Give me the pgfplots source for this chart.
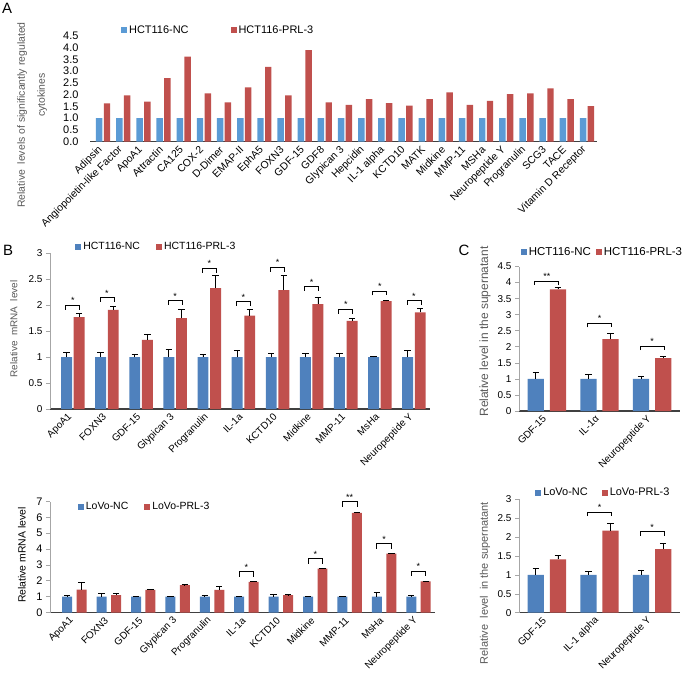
\documentclass[border=0pt]{standalone}
\usepackage{fontspec}
\setmainfont{Liberation Sans}
\usepackage{pgfplots}
\usepackage{pgfplotstable}
\pgfplotsset{compat=1.18}

\definecolor{ablue}{HTML}{5B9BD5}
\definecolor{bblue}{HTML}{4F81BD}
\definecolor{xred}{HTML}{C0504D}
\definecolor{axisgray}{HTML}{404040}
\definecolor{labgray}{HTML}{595959}

% significance brackets, one width per panel
\pgfdeclareplotmark{brkBt}{\pgfpathmoveto{\pgfqpoint{-7bp}{-4.3bp}}\pgfpathlineto{\pgfqpoint{-7bp}{0bp}}\pgfpathlineto{\pgfqpoint{7bp}{0bp}}\pgfpathlineto{\pgfqpoint{7bp}{-4.3bp}}\pgfusepathqstroke}
\pgfdeclareplotmark{brkBb}{\pgfpathmoveto{\pgfqpoint{-7.3bp}{-5bp}}\pgfpathlineto{\pgfqpoint{-7.3bp}{0bp}}\pgfpathlineto{\pgfqpoint{7.3bp}{0bp}}\pgfpathlineto{\pgfqpoint{7.3bp}{-5bp}}\pgfusepathqstroke}
\pgfdeclareplotmark{brkC}{\pgfpathmoveto{\pgfqpoint{-12bp}{-4bp}}\pgfpathlineto{\pgfqpoint{-12bp}{0bp}}\pgfpathlineto{\pgfqpoint{12bp}{0bp}}\pgfpathlineto{\pgfqpoint{12bp}{-4bp}}\pgfusepathqstroke}

\pgfplotstableread{
x nc prl
0 1 1.63
1 1 1.97
2 1 1.70
3 1 2.70
4 1 3.61
5 1 2.05
6 1 1.67
7 1 2.31
8 1 3.18
9 1 1.97
10 1 3.89
11 1 1.67
12 1 1.56
13 1 1.81
14 1 1.64
15 1 1.53
16 1 1.81
17 1 2.09
18 1 1.56
19 1 1.73
20 1 2.02
21 1 2.05
22 1 2.26
23 1 1.81
24 1 1.51
}\dataA

\pgfplotstableread{
x nc nce prl prle
0 1 0.09 1.77 0.07
1 1 0.09 1.91 0.07
2 1 0.05 1.33 0.10
3 1 0.15 1.75 0.17
4 1 0.05 2.33 0.24
5 1 0.12 1.80 0.11
6 1 0.07 2.29 0.29
7 1 0.07 2.02 0.14
8 1 0.08 1.70 0.04
9 1 0.02 2.08 0.02
10 1 0.12 1.86 0.07
}\dataBt

\pgfplotstableread{
x h s
0 2.00 *
1 2.15 *
3 2.09 *
4 2.71 *
5 2.07 *
6 2.73 *
7 2.36 *
8 1.92 *
9 2.27 *
10 2.09 *
}\sigBt

\pgfplotstableread{
x nc nce prl prle
0 1 0.09 1.45 0.45
1 1 0.20 1.10 0.08
2 1 0.03 1.43 0.03
3 1 0.03 1.72 0.03
4 1 0.07 1.42 0.20
5 1 0.02 1.93 0.03
6 1 0.14 1.10 0.03
7 1 0.02 2.77 0.03
8 1 0.02 6.28 0.03
9 1 0.25 3.72 0.03
10 1 0.07 1.96 0.03
}\dataBb

\pgfplotstableread{
x h s
5 2.58 *
7 3.39 *
8 6.98 **
9 4.33 *
10 2.62 *
}\sigBb

\pgfplotstableread{
x nc nce prl prle
0 1 0.20 3.79 0.07
1 1 0.15 2.24 0.17
2 1 0.09 1.65 0.06
}\dataCt

\pgfplotstableread{
x h s
0 4.05 **
1 2.73 *
2 2.02 *
}\sigCt

\pgfplotstableread{
x nc nce prl prle
0 1 0.17 1.41 0.10
1 1 0.08 2.17 0.19
2 1 0.13 1.68 0.16
}\dataCb

\pgfplotstableread{
x h s
1 2.66 *
2 2.14 *
}\sigCb

\pgfplotsset{
  panel/.style={
    scale only axis, clip=false, enlargelimits=false,
    axis x line*=bottom, axis y line*=left,
    x axis line style={axisgray, line width=1.3bp},
    y axis line style={gray!70, line width=0.6bp},
    xtick style={draw=none},
    ytick style={gray!70, line width=0.6bp},
    tick align=outside, major tick length=4bp,
    /pgf/number format/assume math mode=true,
    yticklabel style={font=\fontsize{10}{12}\selectfont},
    xticklabel style={rotate=45, anchor=east, font=\fontsize{10}{12}\selectfont},
    ylabel style={font=\fontsize{10.5}{12}\selectfont, color=labgray},
    legend style={draw=none, fill=none, legend columns=2, anchor=west,
      inner sep=0pt, font=\fontsize{10.5}{12}\selectfont,
      /tikz/every even column/.append style={column sep=14bp}},
    legend cell align=left,
  },
  sq/.style={legend image code/.code={\fill[##1] (0bp,-3bp) rectangle (6bp,3bp);}},
  ebars/.style={error bars/.cd, y dir=plus, y explicit,
    error bar style={black, line width=0.8bp},
    error mark options={rotate=90, black, mark size=3.2bp, line width=0.8bp}},
  sig/.style={only marks, mark=#1, black, line width=0.8bp,
    nodes near coords, point meta=explicit symbolic,
    every node near coord/.style={font=\fontsize{9}{9}\selectfont, anchor=south, inner sep=1bp, black}},
}

\begin{document}
\begin{tikzpicture}
\useasboundingbox (0,0) rectangle (687bp,-681bp);

\node[font=\fontsize{15}{15}\selectfont] at (7bp,-8bp) {A};
\node[font=\fontsize{15}{15}\selectfont] at (8bp,-250bp) {B};
\node[font=\fontsize{15}{15}\selectfont] at (464bp,-250bp) {C};

% ---------- A ----------
\begin{axis}[panel,
  at={(90bp,-141.7bp)}, anchor=south west,
  width=507bp, height=106bp,
  xmin=-0.65, xmax=24.5, ymin=0, ymax=4.5,
  y axis line style={draw=none}, ytick style={draw=none},
  ytick={0,0.5,...,4.5},
  yticklabel style={font=\fontsize{11}{12}\selectfont, xshift=-4bp,
    /pgf/number format/.cd, fixed, fixed zerofill, precision=1},
  xtick={0,...,24},
  xticklabels={Adipsin,Angiopoietin-like Factor,ApoA1,Attractin,CA125,COX-2,D-Dimer,EMAP-II,EphA5,FOXN3,GDF-15,GDF8,Glypican 3,Hepcidin,IL-1 alpha,KCTD10,MATK,Midkine,MMP-11,MSHa,Neuropeptide Y,Progranulin,SCG3,TACE,Vitamin D Receptor},
  xticklabel style={font=\fontsize{10.5}{12}\selectfont},
  ylabel={Relative\ \ levels of significantly regulated\\\hspace*{40bp}cytokines},
  ylabel style={at={(axis description cs:-0.114,0.252)}, anchor=center,
    align=center, font=\fontsize{10.5}{20}\selectfont},
  legend style={at={(0.061,1.054)}, font=\fontsize{11}{12}\selectfont,
    /tikz/every even column/.append style={column sep=40bp}},
]
\addplot[ybar, bar width=0.32, bar shift=0, fill=ablue, draw=none, sq] table[x expr=\thisrow{x}-0.193, y=nc] {\dataA};
\addplot[ybar, bar width=0.32, bar shift=0, fill=xred, draw=none, sq] table[x expr=\thisrow{x}+0.193, y=prl] {\dataA};
\legend{HCT116-NC, HCT116-PRL-3}
\end{axis}

% ---------- B top ----------
\begin{axis}[panel,
  at={(50bp,-409bp)}, anchor=south west,
  width=380bp, height=155.7bp,
  xmin=-0.67, xmax=10.47, ymin=0, ymax=3,
  ytick={0,0.5,...,3},
  xtick={0,...,10},
  xticklabels={ApoA1,FOXN3,GDF-15,Glypican 3,Progranulin,IL-1a,KCTD10,Midkine,MMP-11,MsHa,Neuropeptide Y},
  ylabel={Relative\ \ mRNA\ \ level},
  ylabel style={at={(axis description cs:-0.095,0.514)}, anchor=center, font=\fontsize{10}{12}\selectfont},
  legend style={at={(0.066,1.04)}},
]
\addplot[ybar, bar width=0.32, bar shift=0, fill=bblue, draw=none, sq, ebars] table[x expr=\thisrow{x}-0.185, y=nc, y error=nce] {\dataBt};
\addplot[ybar, bar width=0.32, bar shift=0, fill=xred, draw=none, sq, ebars] table[x expr=\thisrow{x}+0.185, y=prl, y error=prle] {\dataBt};
\addplot[sig=brkBt] table[x=x, y=h, meta=s] {\sigBt};
\legend{HCT116-NC, HCT116-PRL-3}
\end{axis}

% ---------- B bottom ----------
\begin{axis}[panel,
  at={(50bp,-612.5bp)}, anchor=south west,
  width=385bp, height=111bp,
  xmin=-0.71, xmax=10.48, ymin=0, ymax=7,
  ytick={0,...,7},
  yticklabel style={font=\fontsize{11}{12}\selectfont},
  xtick={0,...,10},
  xticklabels={ApoA1,FOXN3,GDF-15,Glypican 3,Progranulin,IL-1a,KCTD10,Midkine,MMP-11,MsHa,Neuropeptide Y},
  ylabel={Relative mRNA level},
  ylabel style={at={(axis description cs:-0.073,0.518)}, anchor=center, color=black},
  legend style={at={(0.072,0.955)}},
]
\addplot[ybar, bar width=0.29, bar shift=0, fill=bblue, draw=none, sq, ebars] table[x expr=\thisrow{x}-0.21, y=nc, y error=nce] {\dataBb};
\addplot[ybar, bar width=0.29, bar shift=0, fill=xred, draw=none, sq, ebars] table[x expr=\thisrow{x}+0.21, y=prl, y error=prle] {\dataBb};
\addplot[sig=brkBb] table[x=x, y=h, meta=s] {\sigBb};
\legend{LoVo-NC, LoVo-PRL-3}
\end{axis}

% ---------- C top ----------
\begin{axis}[panel,
  at={(519bp,-411bp)}, anchor=south west,
  width=161bp, height=144.5bp,
  xmin=-0.53, xmax=2.53, ymin=0, ymax=4.5,
  ytick={0,0.5,...,4.5},
  xtick={0,1,2},
  xticklabels={GDF-15,IL-1α,Neuropeptide Y},
  ylabel={Relative level in the supernatant},
  ylabel style={at={(axis description cs:-0.211,0.55)}, anchor=center, font=\fontsize{12}{12}\selectfont},
  legend style={at={(0.01,1.1)}, font=\fontsize{11.5}{12}\selectfont,
    /tikz/every even column/.append style={column sep=3bp}},
]
\addplot[ybar, bar width=0.31, bar shift=0, fill=bblue, draw=none, sq, ebars] table[x expr=\thisrow{x}-0.21, y=nc, y error=nce] {\dataCt};
\addplot[ybar, bar width=0.31, bar shift=0, fill=xred, draw=none, sq, ebars] table[x expr=\thisrow{x}+0.21, y=prl, y error=prle] {\dataCt};
\addplot[sig=brkC] table[x=x, y=h, meta=s] {\sigCt};
\legend{HCT116-NC, HCT116-PRL-3}
\end{axis}

% ---------- C bottom ----------
\begin{axis}[panel,
  at={(519bp,-612.7bp)}, anchor=south west,
  width=161bp, height=113.4bp,
  xmin=-0.53, xmax=2.53, ymin=0, ymax=3,
  ytick={0,0.5,...,3},
  xtick={0,1,2},
  xticklabels={GDF-15,IL-1 alpha,Neuropeptide Y},
  ylabel={Relative\ \ level\ \ in the supernatant},
  ylabel style={at={(axis description cs:-0.211,0.262)}, anchor=center, font=\fontsize{11}{12}\selectfont},
  legend style={at={(0.1,1.06)}, font=\fontsize{11}{12}\selectfont,
    /tikz/every even column/.append style={column sep=12bp}},
]
\addplot[ybar, bar width=0.31, bar shift=0, fill=bblue, draw=none, sq, ebars] table[x expr=\thisrow{x}-0.21, y=nc, y error=nce] {\dataCb};
\addplot[ybar, bar width=0.31, bar shift=0, fill=xred, draw=none, sq, ebars] table[x expr=\thisrow{x}+0.21, y=prl, y error=prle] {\dataCb};
\addplot[sig=brkC] table[x=x, y=h, meta=s] {\sigCb};
\legend{LoVo-NC, LoVo-PRL-3}
\end{axis}
\end{tikzpicture}
\end{document}
